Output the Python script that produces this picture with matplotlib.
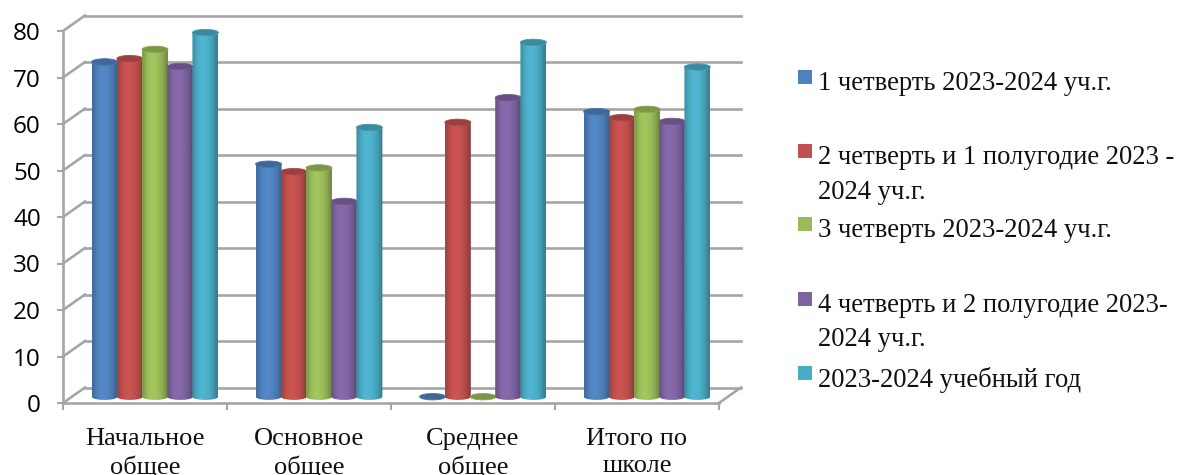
import matplotlib
matplotlib.use("Agg")
import matplotlib.pyplot as plt
import numpy as np
from matplotlib.colors import to_rgb
from matplotlib.patches import Ellipse, PathPatch, Rectangle
from matplotlib.path import Path
from matplotlib.transforms import Affine2D

categories = ["Начальное\nобщее", "Основное\nобщее", "Среднее\nобщее", "Итого по\nшколе"]
series_names = [
    "1 четверть 2023-2024 уч.г.",
    "2 четверть и 1 полугодие 2023 -\n2024 уч.г.",
    "3 четверть 2023-2024 уч.г.",
    "4 четверть и 2 полугодие 2023-\n2024 уч.г.",
    "2023-2024 учебный год",
]
q1 = [72, 50, 0, 61.3]
q2 = [72.7, 48.4, 59, 60]
q3 = [74.7, 49.2, 0, 61.8]
q4 = [71, 42, 64.3, 59.2]
year = [78.3, 57.9, 76.2, 70.9]
series = [q1, q2, q3, q4, year]
colors = ["#4F81BD", "#C0504D", "#9BBB59", "#8064A2", "#4BACC6"]
yticks = list(range(0, 90, 10))

W, H = 1178, 475
GRID = "#a6a6a6"
SERIF = "Liberation Serif"

fig = plt.figure(figsize=(W / 100, H / 100), dpi=100)
ax = fig.add_axes([63 / W, (H - 403) / H, 656 / W, 372 / H])
ax.set_xlim(0, 4)
ax.set_ylim(0, 80)
ax.patch.set_visible(False)

# fake 3d: back wall and bars are the front plane shifted by some pixels
back = ax.transData + Affine2D().translate(22, 15.5)
mid = ax.transData + Affine2D().translate(10, 6.3)

for v in yticks:
    ax.plot([0, 4], [v, v], color=GRID, lw=1.9, transform=back, clip_on=False, zorder=1)
    fx, fy = ax.transData.transform((0, v))
    bx, by = back.transform((0, v))
    ax.plot([fx, bx], [fy, by], color=GRID, lw=1.9, transform=None, clip_on=False, zorder=1)
fx, fy = ax.transData.transform((4, 0))
bx, by = back.transform((4, 0))
ax.plot([fx, bx], [fy, by], color=GRID, lw=1.9, transform=None, clip_on=False, zorder=1)

for s in ["top", "right"]:
    ax.spines[s].set_visible(False)
for s in ["left", "bottom"]:
    ax.spines[s].set_color(GRID)
    ax.spines[s].set_linewidth(1.9)

ax.set_yticks(yticks)
ax.tick_params(axis="y", length=4.5, width=1.5, color=GRID, pad=11.5, labelsize=17.5)
for lab in ax.get_yticklabels():
    lab.set_family("Open Sans")
ax.set_xticks(range(5))
ax.set_xticklabels([])
ax.tick_params(axis="x", which="major", length=5, width=1.5, color=GRID)
ax.set_xticks(np.arange(4) + 0.5, categories, minor=True)
ax.tick_params(axis="x", which="minor", length=0, pad=18, labelsize=19)
for lab in ax.get_xticklabels(minor=True):
    lab.set_family(SERIF)
    lab.set_linespacing(1.3)
    lab.set_color("#111111")

slot = 25.2 / 164
bw = 26 / 164
ry = 3.2 / 4.65  # half height of the cylinder ellipse in data units
shade = np.array([0.85, 0.98, 1.05, 1.06, 1.03, 0.98, 0.9, 0.76])
arc = np.linspace(np.pi, 2 * np.pi, 30)

for i, vals in enumerate(series):
    rgb = np.array(to_rgb(colors[i]))
    grad = np.clip(np.outer(shade, rgb), 0, 1)[None, :, :]
    for g, v in enumerate(vals):
        xc = g + 0.5 + (i - 2) * slot
        z = 3 + i * 0.1 + g
        if v > 0:
            xs = xc + bw / 2 * np.cos(arc)
            ys = ry * np.sin(arc)
            verts = list(zip(xs, ys)) + [(xc + bw / 2, v), (xc - bw / 2, v), (xc - bw / 2, 0)]
            outline = PathPatch(Path(verts), transform=mid, fc="none", ec="none")
            ax.add_patch(outline)
            im = ax.imshow(grad, extent=(xc - bw / 2, xc + bw / 2, -1, v), aspect="auto",
                           interpolation="bilinear", transform=mid, zorder=z)
            im.set_clip_path(outline)
        top = Ellipse((xc, v), bw, 2 * ry, transform=mid, fc=rgb * 0.8, ec=rgb * 0.9,
                      lw=0.6, zorder=z + 0.05, clip_on=False)
        ax.add_patch(top)

ax.set_xlim(0, 4)
ax.set_ylim(0, 80)

# legend, slots are evenly spaced and long entries wrap inside them
legend_y = [81, 155, 228, 303, 377]
for name, col, y in zip(series_names, colors, legend_y):
    fig.add_artist(Rectangle((798 / W, 1 - (y + 3) / H), 14 / W, 14 / H, fc=col, ec="none",
                             transform=fig.transFigure))
    fig.text(818 / W, 1 - (y - 10) / H, name, family=SERIF, fontsize=19.2, va="top", ha="left",
             color="#111111", linespacing=1.5)

fig.savefig("out.png", dpi=100)
